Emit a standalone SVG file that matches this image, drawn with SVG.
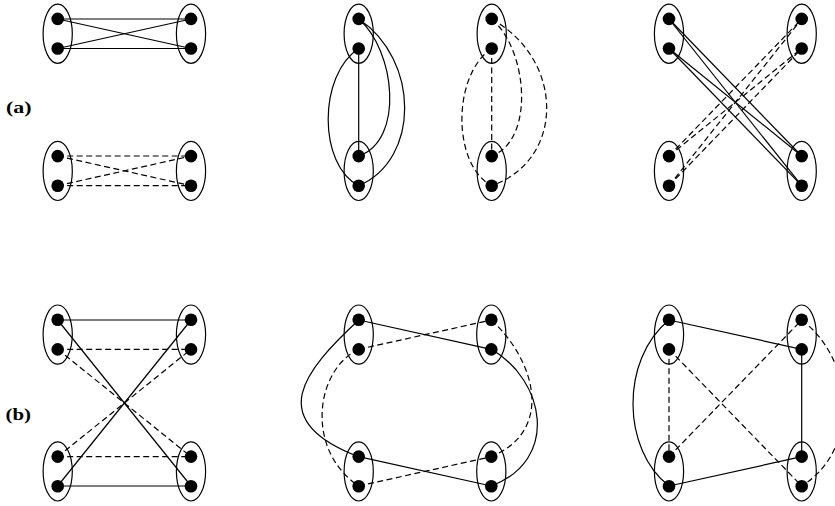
<svg xmlns="http://www.w3.org/2000/svg" width="835" height="506" viewBox="0 0 835 506">
<style>
.ell{fill:none;stroke:#000;stroke-width:1.2}
.dot{fill:#000}
.s{fill:none;stroke:#000;stroke-width:1.2}
.d{fill:none;stroke:#000;stroke-width:1.2;stroke-dasharray:6 3.5}
.lbl{font-family:'Liberation Serif','Times New Roman',serif;font-weight:bold;font-size:17.5px;fill:#000}
</style>
<rect width="835" height="506" fill="#fff"/>
<text class="lbl" x="6" y="112.5" textLength="25.5" lengthAdjust="spacingAndGlyphs">(a)</text>
<text class="lbl" x="5.5" y="420" textLength="25.5" lengthAdjust="spacingAndGlyphs">(b)</text>
<g id="connectors">
<!-- panel a1 -->
<line class="s" x1="57.7" y1="19" x2="191" y2="19"/>
<line class="s" x1="57.7" y1="19" x2="191" y2="48.5"/>
<line class="s" x1="57.7" y1="48.5" x2="191" y2="19"/>
<line class="s" x1="57.7" y1="48.5" x2="191" y2="48.5"/>
<line class="d" x1="57.7" y1="156" x2="191" y2="156"/>
<line class="d" x1="57.7" y1="156" x2="191" y2="185.7"/>
<line class="d" x1="57.7" y1="185.7" x2="191" y2="156"/>
<line class="d" x1="57.7" y1="185.7" x2="191" y2="185.7"/>
<!-- panel a2 solid -->
<line class="s" x1="358.7" y1="48.5" x2="358.7" y2="156"/>
<path class="s" d="M358.7,48.5 C318,75 318,165 358.7,185.7"/>
<path class="s" d="M358.7,19 C395,50 405,140 358.7,156"/>
<path class="s" d="M358.7,19 C420,60 420,160 358.7,185.7"/>
<!-- panel a2 dashed -->
<line class="d" x1="491.7" y1="48.5" x2="491.7" y2="156"/>
<path class="d" d="M491.7,48.5 C452,75 452,165 491.7,185.7"/>
<path class="d" d="M491.7,19 C528,50 535,140 491.7,156"/>
<path class="d" d="M491.7,19 C565,60 565,160 491.7,185.7"/>
<!-- panel a3 -->
<line class="s" x1="669" y1="19" x2="801.7" y2="156"/>
<line class="s" x1="669" y1="19" x2="801.7" y2="185.7"/>
<line class="s" x1="669" y1="48.5" x2="801.7" y2="156"/>
<line class="s" x1="669" y1="48.5" x2="801.7" y2="185.7"/>
<line class="d" x1="669" y1="156" x2="801.7" y2="19"/>
<line class="d" x1="669" y1="156" x2="801.7" y2="48.5"/>
<line class="d" x1="669" y1="185.7" x2="801.7" y2="19"/>
<line class="d" x1="669" y1="185.7" x2="801.7" y2="48.5"/>
<!-- panel b1 -->
<line class="s" x1="57.7" y1="320" x2="191" y2="320"/>
<line class="d" x1="57.7" y1="349.3" x2="191" y2="349.3"/>
<line class="s" x1="57.7" y1="320" x2="191" y2="486"/>
<line class="s" x1="57.7" y1="486" x2="191" y2="320"/>
<line class="d" x1="57.7" y1="349.3" x2="191" y2="456.7"/>
<line class="d" x1="57.7" y1="456.7" x2="191" y2="349.3"/>
<line class="d" x1="57.7" y1="456.7" x2="191" y2="456.7"/>
<line class="s" x1="57.7" y1="486" x2="191" y2="486"/>
<!-- panel b2 -->
<line class="s" x1="358.7" y1="320" x2="491.3" y2="349.3"/>
<line class="d" x1="358.7" y1="349.3" x2="491.3" y2="320"/>
<line class="s" x1="358.7" y1="456.7" x2="491.3" y2="486"/>
<line class="d" x1="358.7" y1="486" x2="491.3" y2="456.7"/>
<path class="s" d="M358.7,320 C305,370 262,420 358.7,456.7"/>
<path class="d" d="M358.7,349.3 C315,370 305,450 358.7,486"/>
<path class="s" d="M491.3,349.3 C545,380 560,460 491.3,486"/>
<path class="d" d="M491.3,320 C535,360 555,430 491.3,456.7"/>
<!-- panel b3 -->
<line class="s" x1="669" y1="320" x2="801.7" y2="349.3"/>
<line class="s" x1="801.7" y1="349.3" x2="801.7" y2="456.7"/>
<line class="s" x1="669" y1="486" x2="801.7" y2="456.7"/>
<path class="s" d="M669,320 C620,360 622,450 669,486"/>
<line class="d" x1="669" y1="349.3" x2="669" y2="456.7"/>
<line class="d" x1="669" y1="349.3" x2="801.7" y2="486"/>
<line class="d" x1="669" y1="456.7" x2="801.7" y2="320"/>
<path class="d" d="M801.7,320 C855,360 860,450 801.7,486"/>
</g>
<defs>
<g id="pair">
<ellipse class="ell" cx="0" cy="0" rx="14.6" ry="29.6"/>
<circle class="dot" cx="0" cy="-14.8" r="6.3"/>
<circle class="dot" cx="0" cy="14.8" r="6.3"/>
</g>
</defs>
<g id="a1-tl"><use href="#pair" x="57.7" y="33.7"/></g>
<g id="a1-tr"><use href="#pair" x="191" y="33.7"/></g>
<g id="a1-bl"><use href="#pair" x="57.7" y="170.9"/></g>
<g id="a1-br"><use href="#pair" x="191" y="170.9"/></g>
<g id="a2-l-top"><use href="#pair" x="358.7" y="33.7"/></g>
<g id="a2-l-bot"><use href="#pair" x="358.7" y="170.9"/></g>
<g id="a2-r-top"><use href="#pair" x="491.7" y="33.7"/></g>
<g id="a2-r-bot"><use href="#pair" x="491.7" y="170.9"/></g>
<g id="a3-tl"><use href="#pair" x="669" y="33.7"/></g>
<g id="a3-tr"><use href="#pair" x="801.7" y="33.7"/></g>
<g id="a3-bl"><use href="#pair" x="669" y="170.9"/></g>
<g id="a3-br"><use href="#pair" x="801.7" y="170.9"/></g>
<g id="b1-tl"><use href="#pair" x="57.7" y="334.6"/></g>
<g id="b1-tr"><use href="#pair" x="191" y="334.6"/></g>
<g id="b1-bl"><use href="#pair" x="57.7" y="471.4"/></g>
<g id="b1-br"><use href="#pair" x="191" y="471.4"/></g>
<g id="b2-tl"><use href="#pair" x="358.7" y="334.6"/></g>
<g id="b2-tr"><use href="#pair" x="491.3" y="334.6"/></g>
<g id="b2-bl"><use href="#pair" x="358.7" y="471.4"/></g>
<g id="b2-br"><use href="#pair" x="491.3" y="471.4"/></g>
<g id="b3-tl"><use href="#pair" x="669" y="334.6"/></g>
<g id="b3-tr"><use href="#pair" x="801.7" y="334.6"/></g>
<g id="b3-bl"><use href="#pair" x="669" y="471.4"/></g>
<g id="b3-br"><use href="#pair" x="801.7" y="471.4"/></g>
</svg>
